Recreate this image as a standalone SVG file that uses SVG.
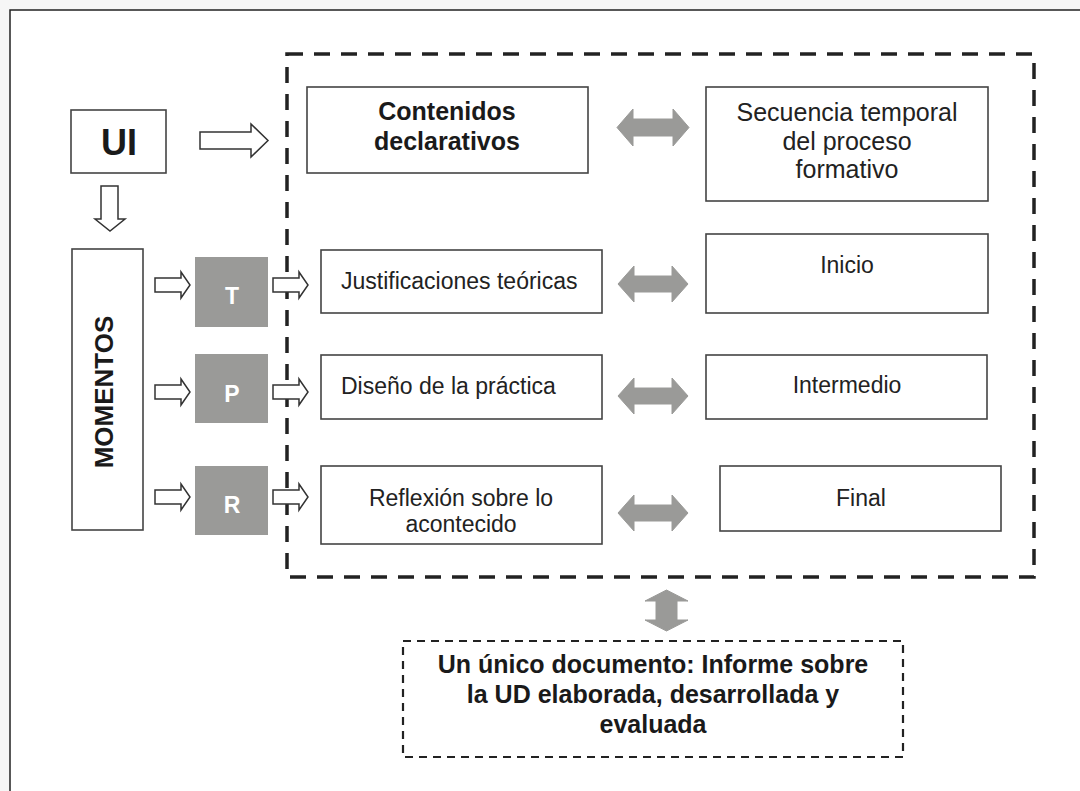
<svg xmlns="http://www.w3.org/2000/svg" width="1080" height="791" viewBox="0 0 1080 791">
<defs>
<style>
.box{fill:#fff;stroke:#444;stroke-width:1.6}
.gray{fill:#9a9a98;stroke:none}
.hollow{fill:#fff;stroke:#333;stroke-width:1.5;stroke-linejoin:miter}
.dbl{fill:#9a9a98;stroke:#9a9a98;stroke-width:1;stroke-linejoin:round}
.t{font-family:"Liberation Sans",Arial,Helvetica,sans-serif;fill:#222;font-size:23px}
.big{font-size:25px}
.b{font-weight:bold;fill:#1a1a1a}
.w{fill:#fff;font-weight:bold;font-size:23px}
.c{text-anchor:middle}
</style>
</defs>
<rect x="0" y="0" width="1080" height="791" fill="#f6f6f6"/>
<rect x="10" y="10" width="1090" height="800" fill="#fff" stroke="#222" stroke-width="1.5"/>

<g id="group-dashed">
<rect x="287" y="54" width="747" height="523" fill="none" stroke="#222" stroke-width="3.5" stroke-dasharray="16 11"/>
</g>

<g id="node-ui">
<rect class="box" x="71" y="110" width="95" height="63"/>
<text class="t b c" x="119" y="155" style="font-size:36px">UI</text>
</g>

<g id="node-momentos">
<rect class="box" x="72" y="249" width="71" height="281"/>
<text class="t b c" transform="translate(113,392) rotate(-90)" style="font-size:26px">MOMENTOS</text>
</g>

<g id="node-t">
<rect class="gray" x="195" y="257" width="73" height="70"/>
<text class="t w c" x="232" y="304">T</text>
</g>
<g id="node-p">
<rect class="gray" x="195" y="354" width="73" height="69"/>
<text class="t w c" x="232" y="402">P</text>
</g>
<g id="node-r">
<rect class="gray" x="195" y="466" width="73" height="69"/>
<text class="t w c" x="232" y="513">R</text>
</g>

<g id="node-contenidos">
<rect class="box" x="307" y="87" width="281" height="86"/>
<text class="t big b c" x="447" y="120">Contenidos</text>
<text class="t big b c" x="447" y="150">declarativos</text>
</g>

<g id="node-secuencia">
<rect class="box" x="706" y="87" width="282" height="114"/>
<text class="t big c" x="847" y="121">Secuencia temporal</text>
<text class="t big c" x="847" y="150">del proceso</text>
<text class="t big c" x="847" y="178">formativo</text>
</g>

<g id="node-justificaciones">
<rect class="box" x="321" y="250" width="281" height="63"/>
<text class="t" x="341" y="289">Justificaciones teóricas</text>
</g>

<g id="node-inicio">
<rect class="box" x="706" y="234" width="282" height="79"/>
<text class="t c" x="847" y="273">Inicio</text>
</g>

<g id="node-diseno">
<rect class="box" x="321" y="355" width="281" height="64"/>
<text class="t" x="341" y="394">Diseño de la práctica</text>
</g>

<g id="node-intermedio">
<rect class="box" x="706" y="355" width="281" height="64"/>
<text class="t c" x="847" y="393">Intermedio</text>
</g>

<g id="node-reflexion">
<rect class="box" x="321" y="466" width="281" height="78"/>
<text class="t c" x="461" y="506">Reflexión sobre lo</text>
<text class="t c" x="461" y="532">acontecido</text>
</g>

<g id="node-final">
<rect class="box" x="720" y="466" width="281" height="65"/>
<text class="t c" x="861" y="506">Final</text>
</g>

<g id="node-informe">
<rect x="403" y="641" width="500" height="116" fill="none" stroke="#222" stroke-width="2.2" stroke-dasharray="8 6"/>
<text class="t big b c" x="653" y="673">Un único documento: Informe sobre</text>
<text class="t big b c" x="653" y="703">la UD elaborada, desarrollada y</text>
<text class="t big b c" x="653" y="733">evaluada</text>
</g>

<g id="connectors">
<polygon class="hollow" points="200,132 251,132 251,124 268,140.5 251,157 251,149 200,149"/>
<polygon class="hollow" points="101,186 118,186 118,219 125,219 110,231 95,219 101,219"/>
<polygon class="hollow" points="155,278 181,278 181,272 190,285 181,298 181,292 155,292"/>
<polygon class="hollow" points="155,385 181,385 181,379 190,392 181,405 181,399 155,399"/>
<polygon class="hollow" points="155,490 181,490 181,484 190,497 181,510 181,504 155,504"/>
<polygon class="hollow" points="273,278 299,278 299,272 308,285 299,298 299,292 273,292"/>
<polygon class="hollow" points="273,385 299,385 299,379 308,392 299,405 299,399 273,399"/>
<polygon class="hollow" points="273,490 299,490 299,484 308,497 299,510 299,504 273,504"/>
<polygon class="dbl" points="617,127.5 633,109 633,119 673,119 673,109 689,127.5 673,146 673,136 633,136 633,146"/>
<polygon class="dbl" points="618,284 634,266 634,276 672,276 672,266 688,284 672,302 672,292 634,292 634,302"/>
<polygon class="dbl" points="618,396 634,378 634,388 672,388 672,378 688,396 672,414 672,404 634,404 634,414"/>
<polygon class="dbl" points="618,513 634,495 634,505 672,505 672,495 688,513 672,531 672,521 634,521 634,531"/>
<polygon class="dbl" points="666.5,590 688,601 677,601 677,620 688,620 666.5,631 645,620 656,620 656,601 645,601"/>
</g>
</svg>
